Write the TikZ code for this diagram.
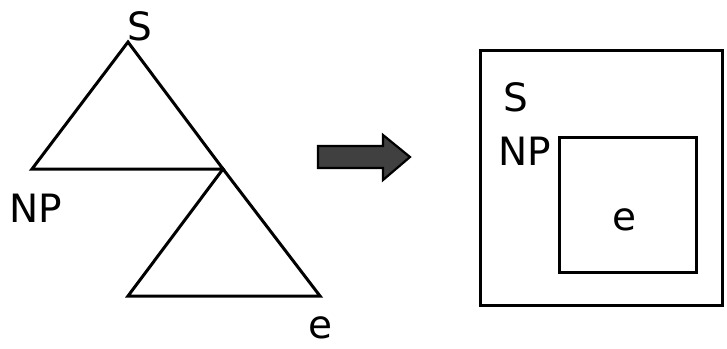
\documentclass[tikz,border=0pt]{standalone}
\usepackage{fontspec}
\setmainfont{DejaVu Sans}
\begin{document}
\begin{tikzpicture}[x=1pt,y=-1pt,
  lbl/.style={inner sep=0pt,font=\fontsize{39}{42}\selectfont},
  edge/.style={line width=3pt,line join=miter},
  blockarrow/.style={draw=black,fill=black!75,line width=2.2pt,line join=miter}]
\useasboundingbox (0,0) rectangle (727,348);
% left tree
\coordinate (a1) at (128,42);
\coordinate (b1) at (32,169);
\coordinate (c1) at (223,169);
\coordinate (b2) at (128,296);
\coordinate (c2) at (320,296);
\draw[edge] (a1) -- (b1) -- (c1) -- cycle;
\draw[edge] (c1) -- (b2) -- (c2) -- cycle;
\node[lbl] (S1) at (140,26) {S};
\node[lbl] (NP1) at (36,208) {NP};
\node[lbl] (e1) at (320,328) {e};
% block arrow
\draw[blockarrow] (318,146) -- (383,146) -- (383,135) -- (410,157) -- (383,180) -- (383,168) -- (318,168) -- cycle;
% right boxes
\draw[line width=3pt] (480,50) rectangle (722,305);
\draw[line width=3pt] (559,137) rectangle (696,272);
\node[lbl] (S2) at (516,97) {S};
\node[lbl] (NP2) at (525,151) {NP};
\node[lbl] (e2) at (624,220) {e};
\end{tikzpicture}
\end{document}
